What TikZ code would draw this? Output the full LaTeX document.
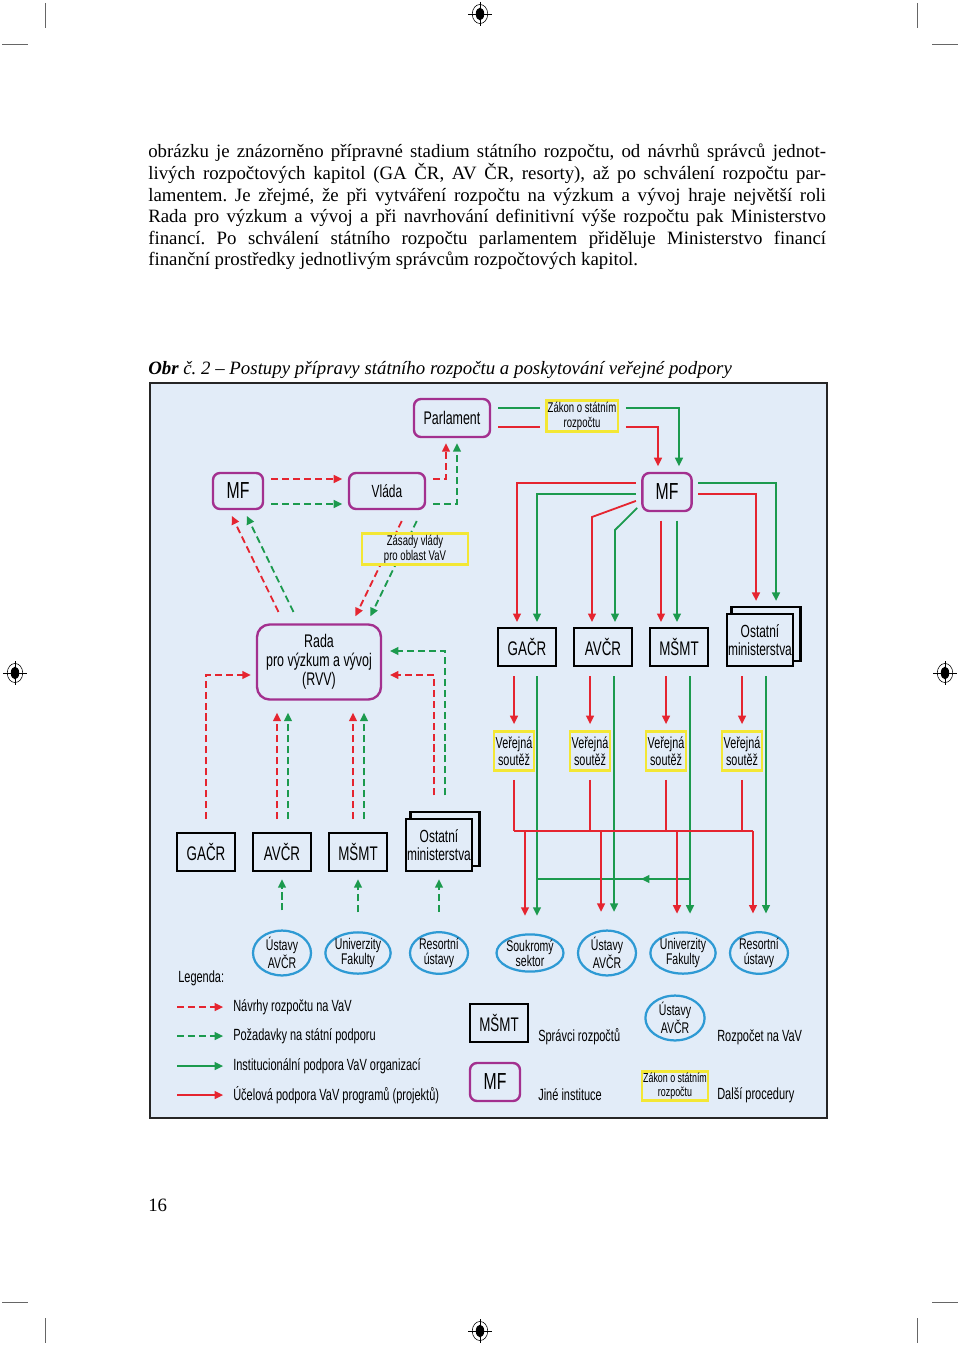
\documentclass[tikz,border=0pt]{standalone}
\usepackage{fontspec}
\setmainfont{Liberation Serif}
\newfontfamily\condfont[FakeStretch=0.68]{Liberation Sans}
\usetikzlibrary{arrows.meta,shapes.geometric,positioning}
\definecolor{figbg}{HTML}{E2ECF8}
\definecolor{instcol}{HTML}{A3308F}
\definecolor{proccol}{HTML}{F3E735}
\definecolor{orgcol}{HTML}{2E9AD4}
\definecolor{redcol}{HTML}{E52530}
\definecolor{greencol}{HTML}{1C9A4E}
\newcommand\cfont[2]{\condfont\fontsize{#1}{#2}\selectfont}
\frenchspacing
\pgfdeclarelayer{bg}
\pgfdeclarelayer{conn}
\pgfsetlayers{bg,conn,main}
\tikzset{
    myinst/.style={draw=instcol,line width=1.7pt,rounded corners=5pt,fill=figbg,inner sep=1pt,align=center},
    myrow/.style={draw=black,line width=1.6pt,fill=figbg,inner sep=1pt,align=center,
        minimum width=1.45cm,minimum height=0.95cm,font=\cfont{14}{15}},
    mystack/.style={myrow,minimum width=1.65cm,minimum height=1.3cm,font=\cfont{12.5}{13}},
    myproc/.style={draw=proccol,line width=1.7pt,fill=figbg,inner sep=1pt,align=center},
    myvs/.style={myproc,minimum width=0.98cm,minimum height=0.98cm,font=\cfont{11.3}{12}},
    myorg/.style={ellipse,draw=orgcol,line width=1.6pt,fill=figbg,inner sep=0pt,align=center,
        minimum width=1.45cm,minimum height=0.85cm,font=\cfont{11}{10.5}},
    mylegend/.style={anchor=west,inner sep=0pt,font=\cfont{11.5}{12}},
    myred/.style={line width=1.3pt,draw=redcol},
    mygreen/.style={line width=1.3pt,draw=greencol},
    myreddash/.style={myred,dash pattern=on 5pt off 2.8pt},
    mygreendash/.style={mygreen,dash pattern=on 5pt off 2.8pt},
    tip/.style={-{Triangle[length=6pt,width=5.5pt]}},
    cropline/.style={line width=0.5pt,draw=black!60},
}

\begin{document}
\begin{tikzpicture}[x=0.025cm,y=-0.025cm]
  \useasboundingbox (0,0) rectangle (960,1346);

  % crop and registration marks
  \foreach \cx in {45,917}{
    \draw[cropline] (\cx,3) -- (\cx,28);
    \draw[cropline] (\cx,1318) -- (\cx,1343);
  }
  \foreach \cy in {44,1302}{
    \draw[cropline] (2,\cy) -- (28,\cy);
    \draw[cropline] (932,\cy) -- (958,\cy);
  }
  \foreach \rx/\ry in {480/14,15/673,945/673,480/1331}{
    \draw[line width=0.4pt] (\rx,\ry) ellipse (5.5pt and 6.8pt);
    \fill (\rx,\ry) ellipse (3pt and 4.5pt);
    \draw[line width=0.4pt] (\rx-12,\ry) -- (\rx+12,\ry) (\rx,\ry-12) -- (\rx,\ry+12);
  }

  % text of the page
  \node[anchor=base west,inner sep=0pt,font=\fontsize{13.4}{15.3}\selectfont] (para) at (148,158)
    {\parbox[t]{482pt}{%
      \makebox[482pt][s]{obrázku je znázorněno přípravné stadium státního rozpočtu, od návrhů správců jednot-}\\
      \makebox[482pt][s]{livých rozpočtových kapitol (GA ČR, AV ČR, resorty), až po schválení rozpočtu par-}\\
      \makebox[482pt][s]{lamentem. Je zřejmé, že při vytváření rozpočtu na výzkum a vývoj hraje největší roli}\\
      \makebox[482pt][s]{Rada pro výzkum a vývoj a při navrhování definitivní výše rozpočtu pak Ministerstvo}\\
      \makebox[482pt][s]{financí. Po schválení státního rozpočtu parlamentem přiděluje Ministerstvo financí}\\
      finanční prostředky jednotlivým správcům rozpočtových kapitol.}};
  \node[anchor=base west,inner sep=0pt,font=\fontsize{13.4}{15}\selectfont\itshape] (capt) at (148,374)
    {\makebox[415pt][s]{\textbf{Obr} č. 2 – Postupy přípravy státního rozpočtu a poskytování veřejné podpory}};
  \node[anchor=base west,inner sep=0pt,font=\fontsize{13.4}{15}\selectfont] (pnum) at (148,1211) {16};

  \begin{pgfonlayer}{bg}
    \filldraw[fill=figbg,draw=black!85,line width=2pt] (150,383) rectangle (827,1118);
  \end{pgfonlayer}

  % upper part
  \node[myinst,minimum width=1.9cm,minimum height=0.95cm,font=\cfont{13}{14}] (parl) at (452,418) {Parlament};
  \node[myproc,minimum width=1.65cm,minimum height=0.78cm,font=\cfont{10}{10.5}] (zakon) at (582,416) {Zákon o státním\\rozpočtu};
  \node[myinst,minimum width=1.25cm,minimum height=0.9cm,font=\cfont{16.5}{17}] (mfL) at (238,491) {MF};
  \node[myinst,minimum width=1.9cm,minimum height=0.9cm,font=\cfont{12.5}{13}] (vlada) at (387,491) {Vláda};
  \node[myproc,minimum width=2.65cm,minimum height=0.78cm,font=\cfont{10}{10.5}] (zasady) at (415,549) {Zásady vlády\\pro oblast VaV};
  \node[myinst,minimum width=1.23cm,minimum height=0.95cm,font=\cfont{16.5}{17}] (mfR) at (667,492) {MF};
  \node[myinst,rounded corners=9pt,minimum width=3.1cm,minimum height=1.875cm,font=\cfont{13}{13.5}] (rvv) at (319,662) {Rada\\pro výzkum a vývoj\\(RVV)};

  % budget holders
  \node[myrow] (gacrR) at (527,647) {GAČR};
  \node[myrow] (avcrR) at (603,647) {AVČR};
  \node[myrow] (msmtR) at (679,647) {MŠMT};
  \node[mystack] (ostR) at (760,640) {Ostatní\\ministerstva};
  \node[myrow] (gacrL) at (206,852) {GAČR};
  \node[myrow] (avcrL) at (282,852) {AVČR};
  \node[myrow] (msmtL) at (358,852) {MŠMT};
  \node[mystack] (ostL) at (439,845) {Ostatní\\ministerstva};

  \foreach \i/\x in {1/514,2/590,3/666,4/742}
    \node[myvs] (vs\i) at (\x,751) {Veřejná\\soutěž};

  % research organisations
  \node[myorg] (ustL) at (282,953) {Ústavy\\AVČR};
  \node[myorg] (uniL) at (358,953) {Univerzity\\Fakulty};
  \node[myorg] (resL) at (439,953) {Resortní\\ústavy};
  \node[myorg] (souk) at (530,953) {Soukromý\\sektor};
  \node[myorg] (ustR) at (607,953) {Ústavy\\AVČR};
  \node[myorg] (uniR) at (683,953) {Univerzity\\Fakulty};
  \node[myorg] (resR) at (759,953) {Resortní\\ústavy};

  % legend
  \node[mylegend] (leg) at (178,978) {Legenda:};
  \node[mylegend] (l1) at (233,1007) {Návrhy rozpočtu na VaV};
  \node[mylegend] (l2) at (233,1036) {Požadavky na státní podporu};
  \node[mylegend] (l3) at (233,1066) {Institucionální podpora VaV organizací};
  \node[mylegend] (l4) at (233,1095) {Účelová podpora VaV programů (projektů)};
  \node[myrow] (legspr) at (499,1023) {MŠMT};
  \node[mylegend] (l5) at (538,1037) {Správci rozpočtů};
  \node[myinst,minimum width=1.25cm,minimum height=0.95cm,font=\cfont{16.5}{17}] (legmf) at (495,1082) {MF};
  \node[mylegend] (l6) at (538,1095) {Jiné instituce};
  \node[myorg,minimum width=1.48cm,minimum height=0.92cm] (legorg) at (675,1018) {Ústavy\\AVČR};
  \node[mylegend] (l7) at (717,1037) {Rozpočet na VaV};
  \node[myproc,minimum width=1.63cm,minimum height=0.73cm,font=\cfont{9.3}{9.8}] (legproc) at (675,1086) {Zákon o státním\\rozpočtu};
  \node[mylegend] (l8) at (717,1095) {Další procedury};

  \begin{pgfonlayer}{conn}
    % stacked sheets
    \foreach \n in {ostR,ostL}
      \draw[draw=black,line width=1.6pt,fill=figbg] ([xshift=0.15cm,yshift=0.15cm]\n.south west) rectangle ([xshift=0.15cm,yshift=0.15cm]\n.north east);

    % proposals up to the government
    \draw[myreddash,tip,shorten <=5pt,shorten >=4pt] (mfL.east |- 0,479) -- (vlada.west |- 0,479);
    \draw[mygreendash,tip,shorten <=5pt,shorten >=4pt] (mfL.east |- 0,504) -- (vlada.west |- 0,504);
    \draw[myreddash,tip,shorten <=5pt,shorten >=3.5pt] (vlada.east |- 0,479) -| (446,0 |- parl.south);
    \draw[mygreendash,tip,shorten <=5pt,shorten >=3.5pt] (vlada.east |- 0,504) -| (457,0 |- parl.south);
    \draw[myreddash,tip,shorten <=9pt,shorten >=4.5pt] (284,0 |- rvv.north) -- (229,0 |- mfL.south);
    \draw[mygreendash,tip,shorten <=9pt,shorten >=4.5pt] (299,0 |- rvv.north) -- (244,0 |- mfL.south);
    \draw[myreddash,tip,shorten <=8.6pt,shorten >=5.5pt] (407,0 |- vlada.south) -- (352,0 |- rvv.north);
    \draw[mygreendash,tip,shorten <=8.6pt,shorten >=5.5pt] (422,0 |- vlada.south) -- (367,0 |- rvv.north);

    % left budget holders up to RVV
    \draw[myreddash,tip,shorten <=9pt,shorten >=3.5pt] (gacrL.north) |- (rvv.west |- 0,675);
    \draw[myreddash,tip,shorten <=9pt,shorten >=8.5pt] (277,0 |- avcrL.north) -- (277,0 |- rvv.south);
    \draw[mygreendash,tip,shorten <=9pt,shorten >=8.5pt] (288,0 |- avcrL.north) -- (288,0 |- rvv.south);
    \draw[myreddash,tip,shorten <=9pt,shorten >=8.5pt] (353,0 |- msmtL.north) -- (353,0 |- rvv.south);
    \draw[mygreendash,tip,shorten <=9pt,shorten >=8.5pt] (364,0 |- msmtL.north) -- (364,0 |- rvv.south);
    \draw[myreddash,tip,shorten <=16pt,shorten >=5.5pt] (434,0 |- ostL.north) |- (rvv.east |- 0,675);
    \draw[mygreendash,tip,shorten <=16pt,shorten >=5.5pt] (445,0 |- ostL.north) |- (rvv.east |- 0,651);
    \foreach \o/\s in {ustL/avcrL,uniL/msmtL,resL/ostL}
      \draw[mygreendash,tip,shorten <=13.5pt,shorten >=5pt] (\o.north) -- (\o.north |- \s.south);

    % state budget act
    \draw[mygreen,shorten <=5pt,shorten >=3.5pt] (parl.east |- 0,408) -- (zakon.west |- 0,408);
    \draw[myred,shorten <=5pt,shorten >=3.5pt] (parl.east |- 0,427) -- (zakon.west |- 0,427);
    \draw[mygreen,tip,shorten <=5pt,shorten >=4pt] (zakon.east |- 0,408) -| (679,0 |- mfR.north);
    \draw[myred,tip,shorten <=5pt,shorten >=4pt] (zakon.east |- 0,427) -| (658,0 |- mfR.north);

    % MF to budget holders
    \draw[myred,tip,shorten <=4pt,shorten >=3.5pt] (mfR.west |- 0,483) -| (517,0 |- gacrR.north);
    \draw[mygreen,tip,shorten <=4pt,shorten >=3.5pt] (mfR.west |- 0,494) -| (537,0 |- gacrR.north);
    \draw[myred,tip,shorten <=4pt,shorten >=3.5pt] (mfR.west |- 0,499) -- (592,517) -- (592,0 |- avcrR.north);
    \draw[mygreen,tip,shorten <=4pt,shorten >=3.5pt] (mfR.west |- 0,504) -- (615,530) -- (615,0 |- avcrR.north);
    \draw[myred,tip,shorten <=6pt,shorten >=3.5pt] (661,0 |- mfR.south) -- (661,0 |- msmtR.north);
    \draw[mygreen,tip,shorten <=6pt,shorten >=3.5pt] (677,0 |- mfR.south) -- (677,0 |- msmtR.north);
    \draw[myred,tip,shorten <=4pt,shorten >=8.5pt] (mfR.east |- 0,494) -| (756,0 |- ostR.north);
    \draw[mygreen,tip,shorten <=4pt,shorten >=8.5pt] (mfR.east |- 0,483) -| (776,0 |- ostR.north);

    % budget holders to organisations
    \foreach \s/\v/\x in {gacrR/vs1/514,avcrR/vs2/590,msmtR/vs3/666,ostR/vs4/742}
      \draw[myred,tip,shorten <=6.4pt,shorten >=4.3pt] (\x,0 |- \s.south) -- (\x,0 |- \v.north);
    \foreach \s/\o/\x in {gacrR/souk/537,avcrR/ustR/614,msmtR/uniR/690,ostR/resR/766}
      \draw[mygreen,tip,shorten <=6.4pt,shorten >=12.5pt] (\x,0 |- \s.south) -- (\x,0 |- \o.north);
    \draw[mygreen,tip] (690,879) -- (641,879);
    \draw[mygreen] (645,879) -- (537,879);
    \foreach \v in {vs1,vs2,vs3,vs4}
      \draw[myred,shorten <=5.7pt] (\v.south) -- (\v.south |- 0,831);
    \draw[myred] (vs1.south |- 0,831) -- (753,831);
    \foreach \o/\x in {souk/525,ustR/601,uniR/677,resR/753}
      \draw[myred,tip,shorten >=12.5pt] (\x,831) -- (\x,0 |- \o.north);

    % legend arrows
    \draw[myreddash,tip,shorten >=7pt] (177,1007) -- (l1.west);
    \draw[mygreendash,tip,shorten >=7pt] (177,1036) -- (l2.west);
    \draw[mygreen,tip,shorten >=7pt] (177,1066) -- (l3.west);
    \draw[myred,tip,shorten >=7pt] (177,1095) -- (l4.west);
  \end{pgfonlayer}
\end{tikzpicture}
\end{document}
